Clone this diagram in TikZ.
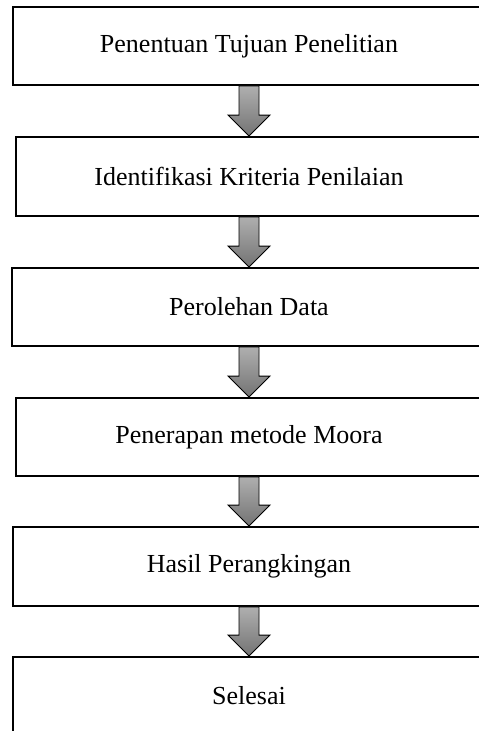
\documentclass[tikz,border=0pt]{standalone}
\usepackage{fontspec}
\setmainfont{Liberation Serif}
\usetikzlibrary{calc}
\tikzset{
  stepbox/.style={draw=black, line width=1.8pt, fill=white, rectangle, minimum height=78pt, inner sep=0pt, font=\fontsize{26}{30}\selectfont, anchor=center},
  flowarrow/.style={draw=black, line width=0.9pt, top color={rgb,255:red,175;green,175;blue,175}, bottom color={rgb,255:red,115;green,115;blue,115}}
}
\newcommand{\blockarrow}[2]{%
  \path[flowarrow] ($(#1.south)+(-10pt,0)$) -- ($(#2.north)+(-10pt,21pt)$) -- ($(#2.north)+(-21pt,21pt)$) -- (#2.north) -- ($(#2.north)+(21pt,21pt)$) -- ($(#2.north)+(10pt,21pt)$) -- ($(#1.south)+(10pt,0)$) -- cycle;}
\begin{document}
\begin{tikzpicture}[x=1pt,y=-1pt]
\useasboundingbox (0,0) rectangle (479,731);
\clip (0,0) rectangle (479,731);
\node[stepbox, minimum width=472pt, minimum height=78pt] (b1) at (249,46) {Penentuan Tujuan Penelitian};
\node[stepbox, minimum width=466pt, minimum height=79pt] (b2) at (249,176.5) {Identifikasi Kriteria Penilaian};
\node[stepbox, minimum width=474pt, minimum height=78pt] (b3) at (249,307) {Perolehan Data};
\node[stepbox, minimum width=466pt, minimum height=78pt] (b4) at (249,437) {Penerapan metode Moora};
\node[stepbox, minimum width=472pt, minimum height=79pt] (b5) at (249,566.5) {Hasil Perangkingan};
\node[stepbox, minimum width=472pt, minimum height=78pt] (b6) at (249,696) {Selesai};
\blockarrow{b1}{b2}
\blockarrow{b2}{b3}
\blockarrow{b3}{b4}
\blockarrow{b4}{b5}
\blockarrow{b5}{b6}
\end{tikzpicture}
\end{document}
